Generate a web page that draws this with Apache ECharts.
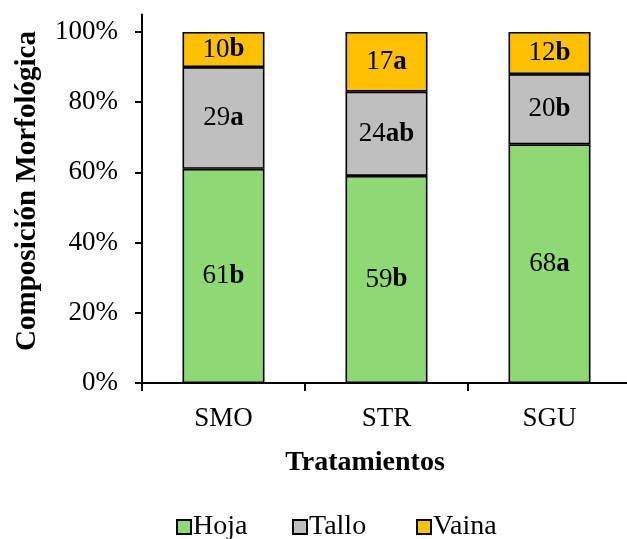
<!DOCTYPE html>
<html>
<head>
<meta charset="utf-8">
<script src="https://cdn.jsdelivr.net/npm/echarts@6/dist/echarts.min.js"></script>
<style>html,body{margin:0;padding:0;background:#fff;}#c{width:627px;height:539px;}</style>
</head>
<body>
<div id="c"></div>
<script>
const categories = ['SMO', 'STR', 'SGU'];
const hoja = [61, 59, 68];
const tallo = [29, 24, 20];
const vaina = [10, 17, 12];
const hojaLetters = ['b', 'b', 'a'];
const talloLetters = ['a', 'ab', 'b'];
const vainaLetters = ['b', 'a', 'b'];
const yTicks = [0, 20, 40, 60, 80, 100];
const seriesNames = ['Hoja', 'Tallo', 'Vaina'];

const FONT = '"Liberation Serif", "Times New Roman", serif';
const FS = 27;

function mkLabel(letters) {
  return {
    show: true,
    position: 'inside',
    formatter: p => '{n|' + p.value + '}{l|' + letters[p.dataIndex] + '}',
    rich: {
      n: { fontFamily: FONT, fontSize: FS, color: '#000' },
      l: { fontFamily: FONT, fontSize: FS, fontWeight: 'bold', color: '#000' }
    }
  };
}
function mkSeries(name, data, color, letters) {
  return {
    name, type: 'bar', stack: 'total', data,
    barWidth: 82,
    itemStyle: { color, borderColor: '#000', borderWidth: 1.6 },
    label: mkLabel(letters)
  };
}
function mkLegend(name, left) {
  return {
    data: [name], left, top: 513, orient: 'horizontal',
    icon: 'rect', itemWidth: 14, itemHeight: 14, itemGap: 0, padding: 0,
    textStyle: { fontFamily: FONT, fontSize: 28, color: '#000', padding: [0, 0, 0, -3] },
    itemStyle: { borderColor: '#000', borderWidth: 2 }
  };
}

const chart = echarts.init(document.getElementById('c'));
chart.setOption({
  animation: false,
  textStyle: { fontFamily: FONT },
  grid: { left: 142, top: 14.4, width: 489, height: 368.6, outerBoundsMode: 'none', containLabel: false },
  xAxis: {
    type: 'category', data: categories,
    axisLine: { lineStyle: { color: '#000', width: 2 } },
    axisTick: { show: true, length: 8, lineStyle: { color: '#000', width: 2 } },
    axisLabel: { fontFamily: FONT, fontSize: FS, color: '#000', margin: 22 }
  },
  yAxis: {
    type: 'value', min: 0, max: 105,
    splitLine: { show: false },
    axisLine: { show: true, lineStyle: { color: '#000', width: 2 } },
    axisTick: { show: true, length: 7, customValues: yTicks, lineStyle: { color: '#000', width: 2 } },
    axisLabel: { customValues: yTicks, formatter: '{value}%', fontFamily: FONT, fontSize: FS, color: '#000', margin: 24 }
  },
  legend: [
    mkLegend(seriesNames[0], 176),
    mkLegend(seriesNames[1], 292),
    mkLegend(seriesNames[2], 416)
  ],
  graphic: [{
    type: 'text', x: 365, y: 463,
    style: { text: 'Tratamientos', font: 'bold 28px ' + FONT, fill: '#000', align: 'center', verticalAlign: 'middle' }
  }, {
    type: 'text', x: 28, y: 191, rotation: Math.PI / 2,
    style: { text: 'Composición Morfológica', font: 'bold 29px ' + FONT, fill: '#000', align: 'center', verticalAlign: 'middle' }
  }],
  series: [
    mkSeries(seriesNames[0], hoja, '#8FD975', hojaLetters),
    mkSeries(seriesNames[1], tallo, '#BFBFBF', talloLetters),
    mkSeries(seriesNames[2], vaina, '#FFC000', vainaLetters)
  ]
});
</script>
</body>
</html>
